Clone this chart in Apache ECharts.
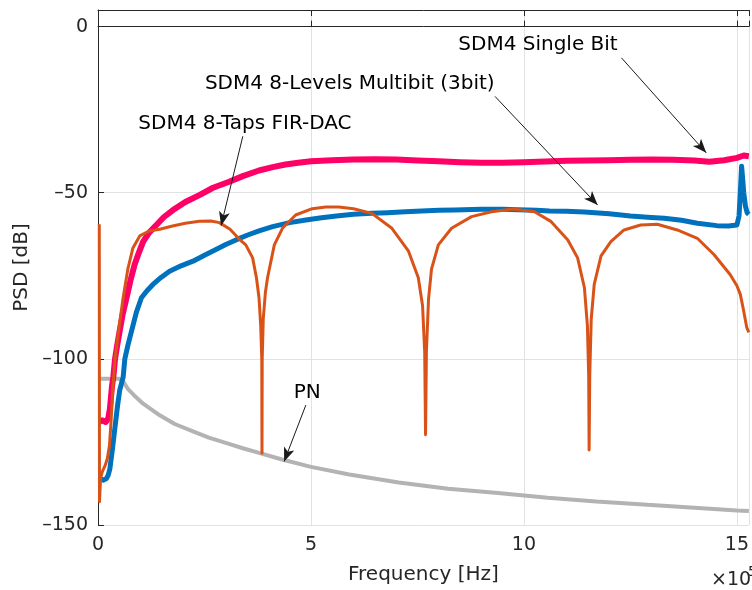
<!DOCTYPE html>
<html>
<head>
<meta charset="utf-8">
<script src="https://cdn.jsdelivr.net/npm/echarts@6/dist/echarts.min.js"></script>
<style>
html, body { margin: 0; padding: 0; background: #fff; }
#psdChart { width: 752px; height: 590px; }
</style>
</head>
<body>
<div id="psdChart"></div>
<script>
// frequencies in units of 1e5 Hz, PSD in dB
var singleBitF = [0.03, 0.1, 0.18, 0.24, 0.28, 0.33, 0.36, 0.4, 0.45, 0.51, 0.58, 0.67, 0.76, 0.86, 0.96, 1.06, 1.2, 1.37, 1.55, 1.76,
    2.05, 2.38, 2.7, 3.08, 3.4, 3.78, 4.1, 4.4, 4.7, 5.0, 5.5, 6.0, 6.5, 7.0, 7.5, 8.0, 8.5, 9.0, 9.5, 10.0,
    10.5, 11.0, 11.5, 12.0, 12.5, 13.0, 13.5, 14.0, 14.35, 14.7, 15.0, 15.16, 15.28];
var singleBitPsd = [-119, -118.5, -119, -118, -115, -108, -105.5, -100, -96, -91.5, -86.5, -81.6, -76.5, -71.6, -68, -64.7, -62, -59.7, -57.3, -55.2,
    -52.8, -50.7, -48.5, -46.7, -45, -43.3, -42.3, -41.5, -41, -40.5, -40.2, -40, -39.9, -40, -40.3, -40.5, -40.8, -41, -41, -40.8,
    -40.6, -40.4, -40.3, -40.2, -40.1, -40, -40.1, -40.3, -40.7, -40.2, -39.5, -38.8, -39];

var multibitF = [0.05, 0.12, 0.2, 0.24, 0.28, 0.34, 0.4, 0.46, 0.51, 0.59, 0.63, 0.7, 0.79, 0.9, 1.02, 1.15, 1.29, 1.48, 1.68, 1.95,
    2.23, 2.5, 2.77, 3.0, 3.24, 3.5, 3.78, 4.1, 4.5, 4.88, 5.25, 5.65, 6.0, 6.43, 6.8, 7.21, 7.6, 8.0, 8.38, 9.0,
    9.5, 9.86, 10.3, 10.6, 11.0, 11.42, 12.0, 12.5, 12.9, 13.29, 13.7, 14.07, 14.53, 14.8, 15.0, 15.05, 15.08, 15.11, 15.13, 15.16,
    15.2, 15.24, 15.28];
var multibitPsd = [-136, -136.5, -136, -135, -133, -127, -120.4, -114, -109.4, -105.5, -100, -96, -91.5, -86, -81.6, -79.5, -77.6, -75.5, -73.6, -72,
    -70.6, -68.8, -67.1, -65.6, -64.2, -62.8, -61.5, -60.2, -59, -58.2, -57.5, -56.9, -56.5, -56.2, -56, -55.7, -55.5, -55.3, -55.2, -55,
    -55, -55.1, -55.3, -55.5, -55.6, -55.8, -56.3, -57, -57.4, -57.7, -58.3, -59.2, -59.9, -60, -59.7, -57, -50, -42, -45, -50,
    -54, -56, -56.5];

var firDacF = [0.03, 0.035, 0.06, 0.1, 0.17, 0.22, 0.27, 0.31, 0.35, 0.4, 0.5, 0.59, 0.7, 0.82, 0.98, 1.2, 1.45, 1.75, 2.05, 2.38,
    2.65, 2.85, 3.1, 3.32, 3.47, 3.63, 3.72, 3.78, 3.82, 3.845, 3.85, 3.855, 3.88, 3.93, 3.98, 4.14, 4.33, 4.64, 5.03, 5.35,
    5.65, 6.0, 6.43, 6.9, 7.29, 7.52, 7.62, 7.67, 7.69, 7.71, 7.76, 7.83, 7.99, 8.3, 8.77, 9.24, 9.74, 10.25, 10.64, 11.03,
    11.26, 11.42, 11.49, 11.52, 11.53, 11.545, 11.58, 11.65, 11.81, 12.04, 12.35, 12.74, 13.13, 13.6, 14.07, 14.46, 14.84, 15.0, 15.08, 15.15,
    15.23, 15.28];
var firDacPsd = [-59.5, -143, -136, -134, -132, -130, -126, -118, -108.5, -100, -90, -81.6, -73, -66.6, -63, -61.5, -61, -60, -59.2, -58.6,
    -58.5, -59, -61, -64, -65.7, -69.6, -75.6, -81.6, -90, -100, -128.4, -100, -88, -80, -75.6, -65.7, -60.7, -56.7, -54.8, -54.3,
    -54.3, -54.8, -56.2, -60.7, -67.6, -75.6, -84, -98, -122.8, -98, -82, -73, -65.7, -60.7, -57.2, -55.7, -54.9, -55.7, -58.7, -64.2,
    -69.6, -78.6, -90, -105, -127.4, -105, -88, -77.6, -69, -64.7, -61.2, -59.7, -59.5, -61.2, -63.7, -68.6, -74.6, -78, -80.6, -85,
    -90.5, -92];

var pnF = [0, 0.5, 0.6, 0.7, 0.85, 1.06, 1.45, 1.8, 2.23, 2.6, 3.0, 3.4, 3.78, 4.3, 5.0, 5.9, 7.06, 8.22, 9.39, 10.56,
    11.7, 12.9, 14.0, 15.0, 15.28];
var pnPsd = [-106, -106, -107, -109, -111, -113.5, -117, -119.6, -121.8, -123.7, -125.3, -126.9, -128.3, -130.2, -132.5, -134.8, -137.2, -139.1, -140.4, -141.8,
    -142.9, -143.9, -144.8, -145.6, -145.8];

// annotation texts and arrows (data coordinates)
var noteText = ['SDM4 Single Bit', 'SDM4 8-Levels Multibit (3bit)', 'SDM4 8-Taps FIR-DAC', 'PN'];
var noteAt = [[10.33, -5.4], [5.91, -17.3], [3.45, -29.3], [4.91, -110.3]];
var arrowFrom = [[12.29, -9.4], [9.32, -21.0], [3.40, -33.0], [4.88, -113.9]];
var arrowTo = [[14.28, -38.0], [11.73, -53.7], [2.89, -59.9], [4.37, -130.9]];

var xMax = 15.28;
var axisColor = '#262626';
var gridColor = '#e2e2e2';
var font = 'DejaVu Sans';

function pairs(f, v) {
    var out = [];
    for (var i = 0; i < f.length; i++) out.push([f[i], v[i]]);
    return out;
}

var chart = echarts.init(document.getElementById('psdChart'));

var arrowHead = 'path://M0,0 M28,28 M14,14 L19.5,28 L14,24.5 L8.5,28 Z';

var option = {
    animation: false,
    grid: { left: 98, right: 0, top: 10, bottom: 62 },
    xAxis: [
        {
            type: 'value', min: 0, max: xMax, interval: 5, position: 'bottom',
            name: 'Frequency [Hz]', nameLocation: 'middle', nameGap: 40,
            nameTextStyle: { color: axisColor, fontSize: 20, fontFamily: font },
            axisLine: { show: true, lineStyle: { color: axisColor, width: 1 } },
            axisTick: { show: true, inside: true, length: 6, lineStyle: { color: axisColor } },
            axisLabel: {
                color: axisColor, fontSize: 19, fontFamily: font, margin: 11,
                formatter: function (v) { return v % 5 === 0 ? String(v) : ''; }
            },
            splitLine: { show: true, lineStyle: { color: gridColor, width: 1 } }
        },
        {
            type: 'value', min: 0, max: xMax, interval: 5, position: 'top',
            axisLine: { show: true, lineStyle: { color: axisColor, width: 1 } },
            axisTick: { show: true, inside: true, length: 6, lineStyle: { color: axisColor } },
            axisLabel: { show: false },
            splitLine: { show: false }
        }
    ],
    yAxis: {
        type: 'value', min: -150, max: 5, interval: 50,
        name: 'PSD [dB]', nameLocation: 'middle', nameGap: 62,
        nameTextStyle: { color: axisColor, fontSize: 20, fontFamily: font },
        axisLine: { show: true, lineStyle: { color: axisColor, width: 1 } },
        axisTick: { show: true, inside: true, length: 6, lineStyle: { color: axisColor } },
        axisLabel: {
            color: axisColor, fontSize: 19, fontFamily: font, margin: 10,
            formatter: function (v) {
                if (v % 50 !== 0) return '';
                return v < 0 ? '\u2013' + (-v) : String(v);
            }
        },
        splitLine: { show: true, lineStyle: { color: gridColor, width: 1 } }
    },
    series: [
        {
            name: 'PN', type: 'line', showSymbol: false, silent: true,
            data: pairs(pnF, pnPsd),
            lineStyle: { color: '#b3b3b3', width: 4 }
        },
        {
            name: 'SDM4 Single Bit', type: 'line', showSymbol: false, silent: true,
            data: pairs(singleBitF, singleBitPsd),
            lineStyle: { color: '#ff0066', width: 6, join: 'round' }
        },
        {
            name: 'SDM4 8-Levels Multibit (3bit)', type: 'line', showSymbol: false, silent: true,
            data: pairs(multibitF, multibitPsd),
            lineStyle: { color: '#0072bd', width: 5, join: 'round' }
        },
        {
            name: 'SDM4 8-Taps FIR-DAC', type: 'line', showSymbol: false, silent: true,
            data: pairs(firDacF, firDacPsd),
            lineStyle: { color: '#d95319', width: 3, join: 'round' }
        },
        {
            name: 'notes', type: 'scatter', silent: true, z: 10,
            symbolSize: 1,
            itemStyle: { color: '#fff', opacity: 1 },
            data: noteAt.map(function (p, i) { return [p[0], p[1], noteText[i]]; }),
            label: {
                show: true, position: 'inside',
                color: '#000', fontSize: 20, fontFamily: font,
                textBorderWidth: 0, textBorderColor: 'transparent',
                formatter: function (p) { return p.value[2]; }
            },
            markLine: {
                silent: true,
                symbol: ['none', arrowHead],
                symbolSize: 28,
                label: { show: false },
                lineStyle: { color: '#1a1a1a', width: 1, type: 'solid', opacity: 1 },
                data: arrowFrom.map(function (a, i) {
                    return [{ coord: a }, { coord: arrowTo[i] }];
                })
            }
        }
    ],
    graphic: [
        {
            type: 'text', left: 711, top: 571,
            style: { text: '\u00d710', fill: axisColor, font: '19px "DejaVu Sans"' }
        },
        {
            type: 'text', left: 748, top: 565,
            style: { text: '5', fill: axisColor, font: '14px "DejaVu Sans"' }
        }
    ]
};

chart.setOption(option);
</script>
</body>
</html>
